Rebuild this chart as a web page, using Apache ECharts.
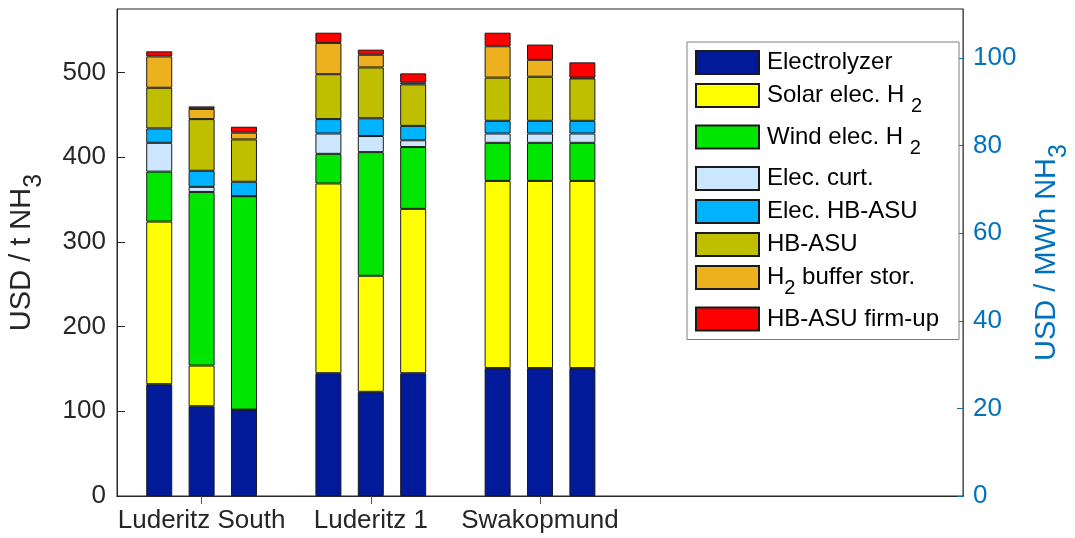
<!DOCTYPE html>
<html>
<head>
<meta charset="utf-8">
<script src="https://cdn.jsdelivr.net/npm/echarts@6/dist/echarts.min.js"></script>
<style>
  html, body { margin: 0; padding: 0; background: #fff; }
  #chart { width: 1075px; height: 538px; }
</style>
</head>
<body>
<div id="chart"></div>
<script>
// Sites on the x axis (two empty slots keep room for the legend)
const sites = ['Luderitz South', 'Luderitz 1', 'Swakopmund', '', ''];
const siteCount = 3;
const casesPerSite = 3;

// Cost components in USD / t NH3, nine bars: 3 cases for each of the 3 sites
const electrolyzer = [132, 106, 102, 145, 123, 145, 151, 151, 151];
const solarElecH2  = [192,  48,   0, 224, 137, 194, 221, 221, 221];
const windElecH2   = [ 59, 205, 252,  35, 146,  73,  45,  45,  45];
const elecCurt     = [ 34,   6,   0,  24,  19,   8,  11,  11,  11];
const elecHbAsu    = [ 17,  19,  17,  17,  21,  17,  15,  15,  15];
const hbAsu        = [ 48,  61,  50,  53,  60,  49,  51,  52,  50];
const h2Buffer     = [ 37,  12,   8,  37,  15,   2,  37,  20,   1];
const hbAsuFirmUp  = [  6,   3,   7,  12,   6,  11,  16,  18,  18];

const componentNames = ['Electrolyzer', 'Solar elec. H2', 'Wind elec. H2', 'Elec. curt.',
                        'Elec. HB-ASU', 'HB-ASU', 'H2 buffer stor.', 'HB-ASU firm-up'];
const componentValues = [electrolyzer, solarElecH2, windElecH2, elecCurt,
                         elecHbAsu, hbAsu, h2Buffer, hbAsuFirmUp];
const componentColors = ['#001A99', '#FFFF00', '#00E600', '#CCE6FF',
                         '#00B3FF', '#BFBF00', '#EDB120', '#FF0000'];

// Legend labels with subscripts as rich text
const legendLabels = {
  'Electrolyzer': '{m|Electrolyzer}',
  'Solar elec. H2': '{m|Solar elec. H }{s|2}',
  'Wind elec. H2': '{m|Wind elec. H }{s|2}',
  'Elec. curt.': '{m|Elec. curt.}',
  'Elec. HB-ASU': '{m|Elec. HB-ASU}',
  'HB-ASU': '{m|HB-ASU}',
  'H2 buffer stor.': '{m|H}{s|2}{m| buffer stor.}',
  'HB-ASU firm-up': '{m|HB-ASU firm-up}'
};

// Energy content of ammonia, MWh per tonne
const mwhPerTonne = 5.17;
const leftMax = 575;

const FONT = 'Liberation Sans, Arial, sans-serif';
const AXIS_COLOR = '#262626';
const RIGHT_COLOR = '#0072BD';

const series = [];
for (let c = 0; c < casesPerSite; c++) {
  componentNames.forEach((name, k) => {
    const data = sites.map((s, i) => i < siteCount ? componentValues[k][i * casesPerSite + c] : null);
    series.push({
      type: 'bar',
      name: name,
      stack: 'case' + c,
      data: data,
      barWidth: 26,
      barGap: '63%',
      itemStyle: { color: componentColors[k], borderColor: '#1a1a1a', borderWidth: 1 },
      emphasis: { disabled: true },
      silent: true
    });
  });
}

// main text plus a lowered subscript; the subscript box is kept flat so the
// line height stays that of the main text
const subRich = (size, subSize, color, drop) => ({
  m: { fontSize: size, lineHeight: size + 2, fontFamily: FONT, color: color },
  s: { fontSize: subSize, height: 2, fontFamily: FONT, color: color, padding: [drop, 0, 0, 0] }
});

const chart = echarts.init(document.getElementById('chart'), null, { renderer: 'canvas' });
chart.setOption({
  animation: false,
  backgroundColor: '#fff',
  grid: {
    left: 117, right: 112, top: 9, bottom: 42,
    containLabel: false, outerBoundsMode: 'none',
    show: true, borderColor: AXIS_COLOR, borderWidth: 1, backgroundColor: 'transparent'
  },
  legend: {
    data: componentNames,
    orient: 'vertical',
    left: 687,
    top: 42,
    padding: [8, 20, 8, 8],
    itemWidth: 63,
    itemHeight: 23,
    itemGap: 8,
    icon: 'rect',
    borderColor: '#7f7f7f',
    borderWidth: 1,
    backgroundColor: '#fff',
    selectedMode: false,
    formatter: name => legendLabels[name],
    textStyle: { rich: subRich(24, 20, '#000', 22), padding: [0, 0, 0, 3] }
  },
  xAxis: [
    {
      type: 'category',
      data: sites,
      position: 'bottom',
      axisLine: { show: true, lineStyle: { color: AXIS_COLOR, width: 1 } },
      axisTick: { show: true, inside: true, alignWithLabel: true, length: 8,
                  interval: (i) => i < siteCount, lineStyle: { color: AXIS_COLOR } },
      axisLabel: { fontSize: 26, fontFamily: FONT, color: AXIS_COLOR, margin: 12, interval: 0 },
      splitLine: { show: false }
    },
    {
      type: 'category',
      data: sites,
      position: 'top',
      axisLine: { show: true, lineStyle: { color: AXIS_COLOR, width: 1 } },
      axisTick: { show: true, inside: true, alignWithLabel: true, length: 8,
                  interval: (i) => i < siteCount, lineStyle: { color: '#555' } },
      axisLabel: { show: false },
      splitLine: { show: false }
    }
  ],
  yAxis: [
    {
      type: 'value',
      min: 0,
      max: leftMax,
      interval: 100,
      position: 'left',
      axisLine: { show: true, lineStyle: { color: AXIS_COLOR, width: 1 } },
      axisTick: { show: true, inside: true, length: 8, lineStyle: { color: AXIS_COLOR } },
      axisLabel: { fontSize: 26, fontFamily: FONT, color: AXIS_COLOR, margin: 11, showMaxLabel: false },
      splitLine: { show: false },
      name: '{m|USD / t NH}{s|3}',
      nameLocation: 'middle',
      nameRotate: 90,
      nameGap: 80,
      nameTextStyle: { rich: subRich(29, 25, AXIS_COLOR, 26) }
    },
    {
      type: 'value',
      min: 0,
      max: leftMax / mwhPerTonne,
      interval: 20,
      position: 'right',
      axisLine: { show: true, lineStyle: { color: RIGHT_COLOR, width: 1 } },
      axisTick: { show: true, inside: true, length: 6, lineStyle: { color: RIGHT_COLOR } },
      axisLabel: { fontSize: 26, fontFamily: FONT, color: RIGHT_COLOR, margin: 10, showMaxLabel: false },
      splitLine: { show: false },
      name: '{m|USD / MWh NH}{s|3}',
      nameLocation: 'middle',
      nameRotate: 90,
      nameGap: 68,
      nameTextStyle: { rich: subRich(29, 25, RIGHT_COLOR, 26) }
    }
  ],
  series: series
});
</script>
</body>
</html>
